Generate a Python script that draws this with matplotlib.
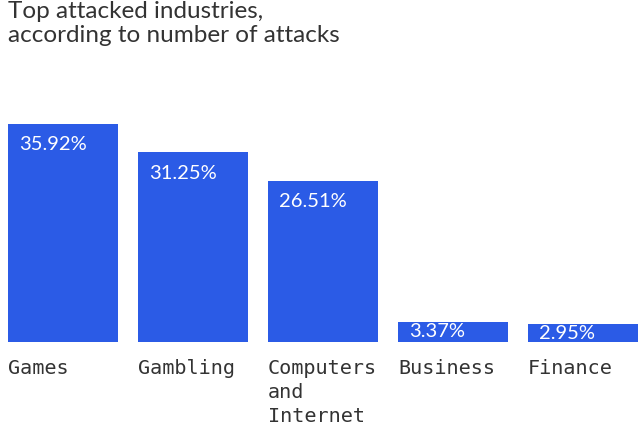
import matplotlib.pyplot as plt

# data
categories = ["Games", "Gambling", "Computers\nand\nInternet", "Business", "Finance"]
values = [35.92, 31.25, 26.51, 3.37, 2.95]
labels = ["35.92%", "31.25%", "26.51%", "3.37%", "2.95%"]

bar_color = "#2b5be6"
text_color = "#333333"

fig = plt.figure(figsize=(6.4, 4.29), dpi=100)
W, H = 640, 429

# axes placed so bars sit on y=342px and run from x=8 to 638
ax = fig.add_axes([0, 1 - 342 / H, 1, (342 - 99) / H])
width = 110 / 130
x = list(range(len(values)))
ax.bar(x, values, width=width, color=bar_color, align="center")
ax.set_xlim(-width / 2 - 8 / 130, len(values) - 1 + width / 2 + 2 / 130)
ax.set_ylim(0, 40)
ax.axis("off")

# value labels inside bars, top-left (centred vertically on the short bars)
for i, (v, lab) in enumerate(zip(values, labels)):
    if v > 10:
        ax.annotate(lab, xy=(i - width / 2, v), xytext=(8, -9),
                    textcoords="offset points", ha="left", va="top",
                    color="white", fontsize=14.5, family="Lato")
    else:
        ax.annotate(lab, xy=(i - width / 2, v / 2), xytext=(8, 0),
                    textcoords="offset points", ha="left", va="center",
                    color="white", fontsize=14.5, family="Lato")

# category labels below bars
for i, cat in enumerate(categories):
    ax.annotate(cat, xy=(i - width / 2, 0), xytext=(0, -12),
                textcoords="offset points", ha="left", va="top",
                color=text_color, fontsize=14.5, family="DejaVu Sans Mono",
                linespacing=1.33)

# title
fig.text(8 / W, 1 - 1 / H, "Top attacked industries,\naccording to number of attacks",
         ha="left", va="top", fontsize=17.5, color=text_color, family="Lato",
         linespacing=1.2)

fig.savefig("out.png", dpi=100)
